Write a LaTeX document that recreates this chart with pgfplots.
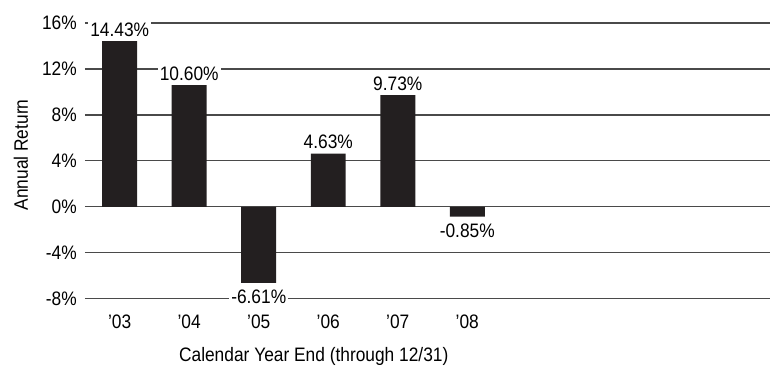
\documentclass[border=0pt]{standalone}
\usepackage{pgfplots}
\pgfplotsset{compat=1.18}
\usepackage{fontspec}
\setmainfont{Liberation Sans}[FakeStretch=0.89]
\definecolor{barc}{HTML}{231F20}
\definecolor{gridc}{HTML}{4A4A4A}
\newcommand{\cf}{\fontsize{19.5bp}{22bp}\selectfont}
\begin{document}
\begin{tikzpicture}
\begin{axis}[
  at={(0,0)}, anchor=south west,
  scale only axis, width=686bp, height=276bp,
  xmin=-0.5, xmax=9.36, ymin=-8, ymax=16,
  ytick={-8,-4,0,4,8,12,16},
  yticklabels={-8\%,-4\%,0\%,4\%,8\%,12\%,16\%},
  xtick={0,1,2,3,4,5},
  xticklabels={'03,'04,'05,'06,'07,'08},
  axis line style={draw=none},
  major tick length=0pt,
  ymajorgrids,
  grid style={color=gridc, line width=1.2bp},
  tick label style={font=\cf, inner sep=0pt},
  yticklabel style={anchor=east, xshift=-8bp},
  xticklabel style={anchor=north, yshift=-16bp},
  xlabel={Calendar Year End (through 12/31)},
  xlabel style={at={(axis description cs:0.3338,0)}, anchor=north, yshift=-48bp, inner sep=0pt, font=\cf},
  ylabel={Annual Return},
  ylabel style={at={(axis description cs:0,0.5)}, anchor=center, yshift=64bp, xshift=6bp, inner sep=0pt, font=\cf},
  ybar, bar width=35bp, bar shift=0pt,
  point meta=explicit symbolic,
  nodes near coords,
  every node near coord/.append style={fill=white, inner sep=2bp, font=\cf},
]
\addplot[fill=barc, draw=none, every node near coord/.append style={anchor=south, yshift=2.5bp}]
  coordinates {(0,14.43) [14.43\%] (1,10.60) [10.60\%] (3,4.63) [4.63\%] (4,9.73) [9.73\%]};
\addplot[fill=barc, draw=none, every node near coord/.append style={anchor=north, yshift=-5bp}]
  coordinates {(2,-6.61) [-6.61\%] (5,-0.85) [-0.85\%]};
\end{axis}
\path (-85bp,-67bp) rectangle (686bp,299bp);
\end{tikzpicture}
\end{document}
